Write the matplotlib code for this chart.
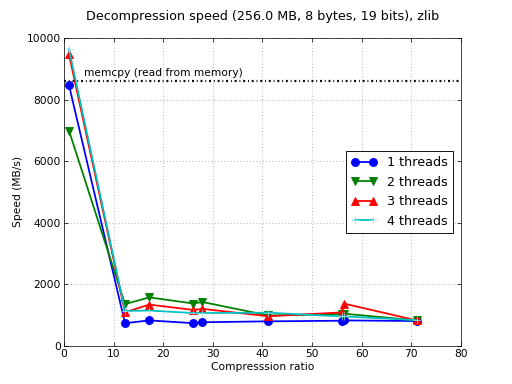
import matplotlib
matplotlib.use("Agg")
import matplotlib.pyplot as plt

plt.rcParams['lines.scale_dashes'] = False
plt.rcParams['font.family'] = ['DejaVu Sans']

ratios = [1.0, 12.3, 17.2, 26.1, 27.9, 41.2, 56.0, 56.4, 71.1]
speed_1 = [8480, 730, 820, 730, 760, 790, 810, 820, 800]
speed_2 = [7000, 1350, 1570, 1370, 1420, 980, 1030, 1040, 820]
speed_3 = [9480, 1085, 1335, 1160, 1195, 955, 1080, 1370, 820]
speed_4 = [9650, 1130, 1140, 1060, 1060, 1070, 950, 950, 830]
memcpy_speed = 8600
memcpy_label = "memcpy (read from memory)"
title = "Decompression speed (256.0 MB, 8 bytes, 19 bits), zlib"

fig = plt.figure(figsize=(8, 6), dpi=64)
ax = fig.add_axes([0.125, 0.1, 0.775, 0.8])

ax.plot(ratios, speed_1, color='b', marker='o', ms=9, lw=2, mec='b', label='1 threads')
ax.plot(ratios, speed_2, color='g', marker='v', ms=9, lw=2, mec='g', label='2 threads')
ax.plot(ratios, speed_3, color='r', marker='^', ms=9, lw=2, mec='r', label='3 threads')
ax.plot(ratios, speed_4, color='c', marker='+', ms=10, mew=0.8, mec=(0.55, 0.9, 0.9),
        lw=2, label='4 threads')

ax.axhline(memcpy_speed, color='k', lw=2.5, linestyle=(0, (2.2, 3.2, 1.0, 3.2)))
ax.text(4, memcpy_speed + 120, memcpy_label, fontsize=12, va='bottom', ha='left')

ax.set_xlim(0, 80)
ax.set_ylim(0, 10000)
ax.set_xticks(range(0, 81, 10))
ax.set_yticks(range(0, 10001, 2000))
ax.tick_params(direction='in', top=True, right=True, labelsize=12, length=4)
ax.grid(True, color='0.75', linestyle=(0, (1.2, 2.4)), lw=1.2)
ax.set_xlabel('Compresssion ratio', fontsize=12)
ax.set_ylabel('Speed (MB/s)', fontsize=12)
fig.suptitle(title, fontsize=14.4, x=0.5125, y=0.975)

leg = ax.legend(loc='center right', fontsize=14.4, numpoints=2, fancybox=False,
                framealpha=1, edgecolor='k', borderaxespad=0.6)
leg.get_frame().set_linewidth(1)

fig.savefig('out.png', dpi=64)
